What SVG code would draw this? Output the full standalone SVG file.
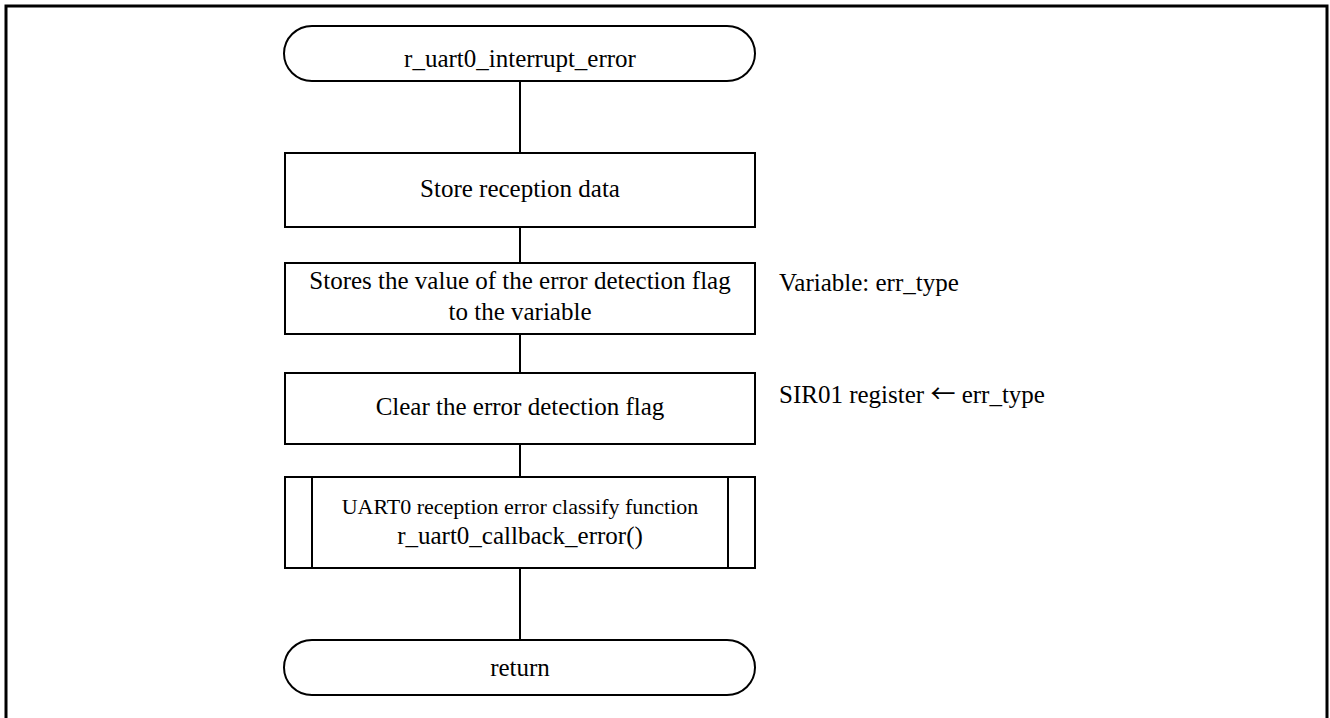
<svg xmlns="http://www.w3.org/2000/svg" width="1330" height="718" viewBox="0 0 1330 718">
<style>
.s{fill:#fff;stroke:#000;stroke-width:2}
.t{font-family:"Liberation Serif","Times New Roman",serif;font-size:25px;fill:#000;text-anchor:middle}
.n{font-family:"Liberation Serif","Times New Roman",serif;font-size:25px;fill:#000}
.c{stroke:#000;stroke-width:2;fill:none}
</style>
<rect width="1330" height="718" fill="#fff"/>
<path d="M6,720 V6 H1327 V720" fill="none" stroke="#000" stroke-width="3"/>
<g id="connectors">
<line class="c" x1="520" y1="82" x2="520" y2="153"/>
<line class="c" x1="520" y1="227" x2="520" y2="263"/>
<line class="c" x1="520" y1="334" x2="520" y2="373"/>
<line class="c" x1="520" y1="444" x2="520" y2="477"/>
<line class="c" x1="520" y1="568" x2="520" y2="640"/>
</g>
<g id="start">
<rect class="s" x="284" y="26" width="471" height="55" rx="28" ry="27.5"/>
<text class="t" x="520" y="67">r_uart0_interrupt_error</text>
</g>
<g id="store">
<rect class="s" x="285" y="153" width="470" height="74"/>
<text class="t" x="520" y="197">Store reception data</text>
</g>
<g id="storeflag">
<rect class="s" x="285" y="263" width="470" height="71"/>
<text class="t" x="520" y="289">Stores the value of the error detection flag</text>
<text class="t" x="520" y="320">to the variable</text>
</g>
<g id="clear">
<rect class="s" x="285" y="373" width="470" height="71"/>
<text class="t" x="520" y="415">Clear the error detection flag</text>
</g>
<g id="callback">
<rect class="s" x="285" y="477" width="470" height="91"/>
<line class="c" x1="312" y1="477" x2="312" y2="568"/>
<line class="c" x1="728" y1="477" x2="728" y2="568"/>
<text class="t" x="520" y="514" style="font-size:22px">UART0 reception error classify function</text>
<text class="t" x="520" y="544">r_uart0_callback_error()</text>
</g>
<g id="return">
<rect class="s" x="284" y="640" width="471" height="55" rx="28" ry="27.5"/>
<text class="t" x="520" y="676">return</text>
</g>
<g id="notes">
<text class="n" x="779" y="291">Variable: err_type</text>
<text class="n" x="779" y="403">SIR01 register <tspan style="font-family:'Noto Sans CJK JP','DejaVu Sans',sans-serif">←</tspan> err_type</text>
</g>
</svg>
